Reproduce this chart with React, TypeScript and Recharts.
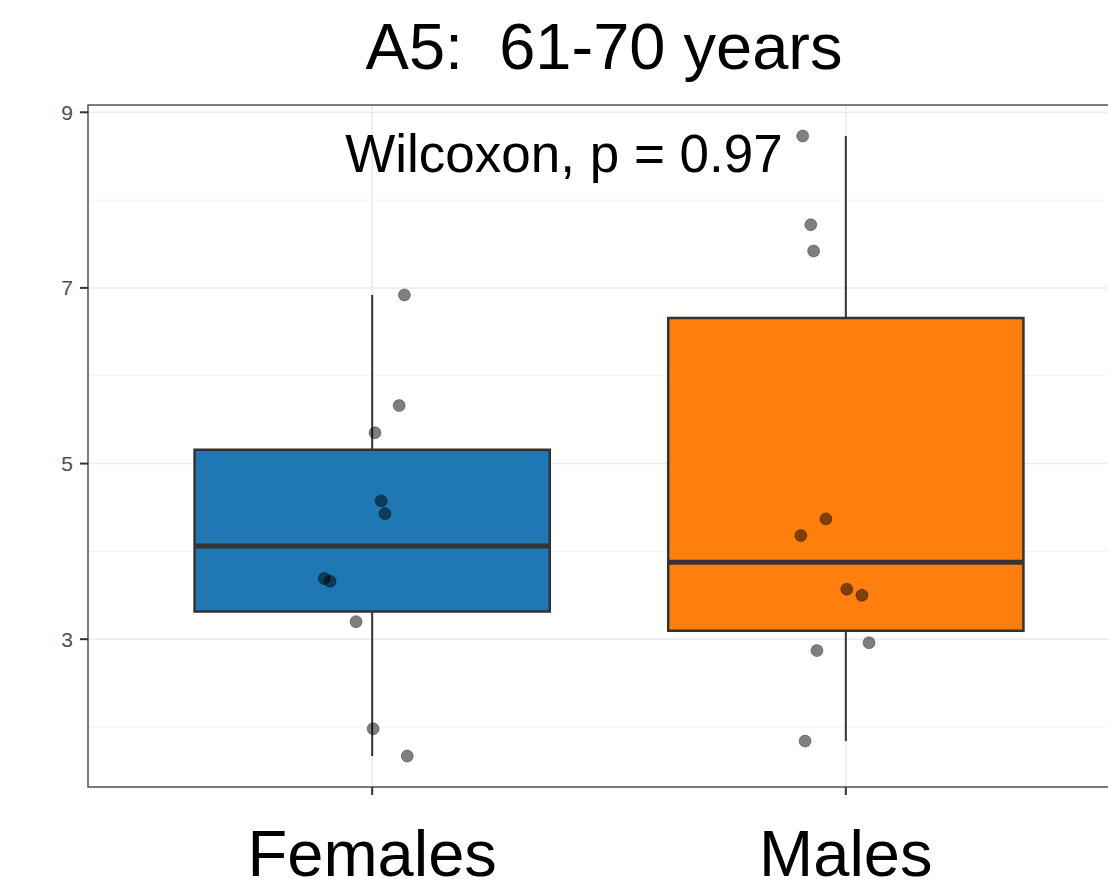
import {
  ComposedChart,
  Scatter,
  XAxis,
  YAxis,
  CartesianGrid,
  ReferenceArea,
  ReferenceLine,
} from "recharts";

const CATEGORIES = ["Females", "Males"];
const BOX_COLORS = ["#1f77b4", "#ff7f0e"];

const FEMALE_VALUES = [6.92, 5.66, 5.35, 4.575, 4.43, 3.69, 3.66, 3.2, 1.98, 1.67];
const FEMALE_JITTER = [0.068, 0.057, 0.006, 0.019, 0.027, -0.101, -0.089, -0.034, 0.002, 0.074];
const MALE_VALUES = [8.73, 7.72, 7.42, 4.37, 4.18, 3.57, 3.5, 2.87, 2.96, 1.84];
const MALE_JITTER = [-0.091, -0.074, -0.068, -0.042, -0.095, 0.002, 0.034, -0.061, 0.049, -0.086];

const Y_TICKS = [3, 5, 7, 9];
const Y_MINOR = [2, 4, 6, 8];
const Y_DOMAIN: [number, number] = [1.317, 9.083];
const X_DOMAIN: [number, number] = [0.4, 2.6];

const TITLE = "A5:  61-70 years";
const TEST_LABEL = "Wilcoxon, p = 0.97";

const FONT = "'Liberation Sans', Arial, Helvetica, sans-serif";
const BOX_HALF = 0.375;

// ggplot-style (type 7) quantile
function quantile(values: number[], p: number) {
  const s = [...values].sort((a, b) => a - b);
  const pos = (s.length - 1) * p;
  const lo = Math.floor(pos);
  const hi = Math.ceil(pos);
  return s[lo] + (s[hi] - s[lo]) * (pos - lo);
}

const groups = [
  { values: FEMALE_VALUES, jitter: FEMALE_JITTER },
  { values: MALE_VALUES, jitter: MALE_JITTER },
];

const boxes = groups.map((g, i) => ({
  x: i + 1,
  min: Math.min(...g.values),
  q1: quantile(g.values, 0.25),
  median: quantile(g.values, 0.5),
  q3: quantile(g.values, 0.75),
  max: Math.max(...g.values),
  fill: BOX_COLORS[i],
}));

const points = groups.flatMap((g, i) =>
  g.values.map((v, j) => ({ x: i + 1 + g.jitter[j], y: v }))
);

const Dot = (props: any) => (
  <circle
    cx={props.cx}
    cy={props.cy}
    r={6}
    fill="#000"
    fillOpacity={0.5}
    stroke="#000"
    strokeOpacity={0.35}
    strokeWidth={1}
  />
);

export default function App() {
  return (
    <div
      style={{
        position: "absolute",
        left: 0,
        top: 0,
        width: 1108,
        height: 889,
        overflow: "hidden",
        background: "#fff",
        fontFamily: FONT,
      }}
    >
      <ComposedChart
        width={1140}
        height={889}
        margin={{ top: 105, right: 10, bottom: 0, left: 0 }}
      >
        <CartesianGrid
          yAxisId="minor"
          vertical={false}
          stroke="#f2f2f2"
          strokeWidth={1}
        />
        <CartesianGrid stroke="#ebebeb" strokeWidth={1.6} />
        <XAxis
          type="number"
          dataKey="x"
          domain={X_DOMAIN}
          ticks={[1, 2]}
          tickFormatter={(v: number) => CATEGORIES[v - 1]}
          height={102}
          tickSize={8}
          tickMargin={35}
          axisLine={false}
          tickLine={{ stroke: "#333", strokeWidth: 2 }}
          tick={{ fontSize: 65, fill: "#000", fontFamily: FONT }}
        />
        <YAxis
          type="number"
          dataKey="y"
          domain={Y_DOMAIN}
          ticks={Y_TICKS}
          allowDataOverflow
          width={88}
          tickSize={8}
          tickMargin={7}
          axisLine={false}
          tickLine={{ stroke: "#333", strokeWidth: 2 }}
          tick={{ fontSize: 21, fill: "#4d4d4d", fontFamily: FONT }}
        />
        <YAxis
          yAxisId="minor"
          type="number"
          domain={Y_DOMAIN}
          ticks={Y_MINOR}
          allowDataOverflow
          hide
        />
        {boxes.map((b) => (
          <ReferenceLine
            key={`wu${b.x}`}
            segment={[
              { x: b.x, y: b.q3 },
              { x: b.x, y: b.max },
            ]}
            stroke="#333"
            strokeWidth={2}
            ifOverflow="visible"
          />
        ))}
        {boxes.map((b) => (
          <ReferenceLine
            key={`wl${b.x}`}
            segment={[
              { x: b.x, y: b.min },
              { x: b.x, y: b.q1 },
            ]}
            stroke="#333"
            strokeWidth={2}
            ifOverflow="visible"
          />
        ))}
        {boxes.map((b) => (
          <ReferenceArea
            key={`box${b.x}`}
            x1={b.x - BOX_HALF}
            x2={b.x + BOX_HALF}
            y1={b.q1}
            y2={b.q3}
            fill={b.fill}
            fillOpacity={1}
            stroke="#333"
            strokeWidth={2.5}
            ifOverflow="visible"
          />
        ))}
        {boxes.map((b) => (
          <ReferenceLine
            key={`med${b.x}`}
            segment={[
              { x: b.x - BOX_HALF, y: b.median },
              { x: b.x + BOX_HALF, y: b.median },
            ]}
            stroke="#333"
            strokeWidth={5}
            ifOverflow="visible"
          />
        ))}
        <ReferenceArea
          x1={X_DOMAIN[0]}
          x2={X_DOMAIN[1]}
          y1={Y_DOMAIN[0]}
          y2={Y_DOMAIN[1]}
          fill="none"
          fillOpacity={0}
          stroke="#555"
          strokeWidth={1.5}
          ifOverflow="visible"
        />
        <Scatter data={points} shape={Dot} isAnimationActive={false} />
      </ComposedChart>
      <svg
        width={1108}
        height={889}
        style={{ position: "absolute", left: 0, top: 0, pointerEvents: "none" }}
      >
        <text
          x={604}
          y={69}
          textAnchor="middle"
          fontSize={65}
          fontFamily={FONT}
          fill="#000"
          style={{ whiteSpace: "pre" }}
        >
          {TITLE}
        </text>
        <text
          x={564}
          y={172}
          textAnchor="middle"
          fontSize={53}
          fontFamily={FONT}
          fill="#000"
        >
          {TEST_LABEL}
        </text>
      </svg>
    </div>
  );
}
